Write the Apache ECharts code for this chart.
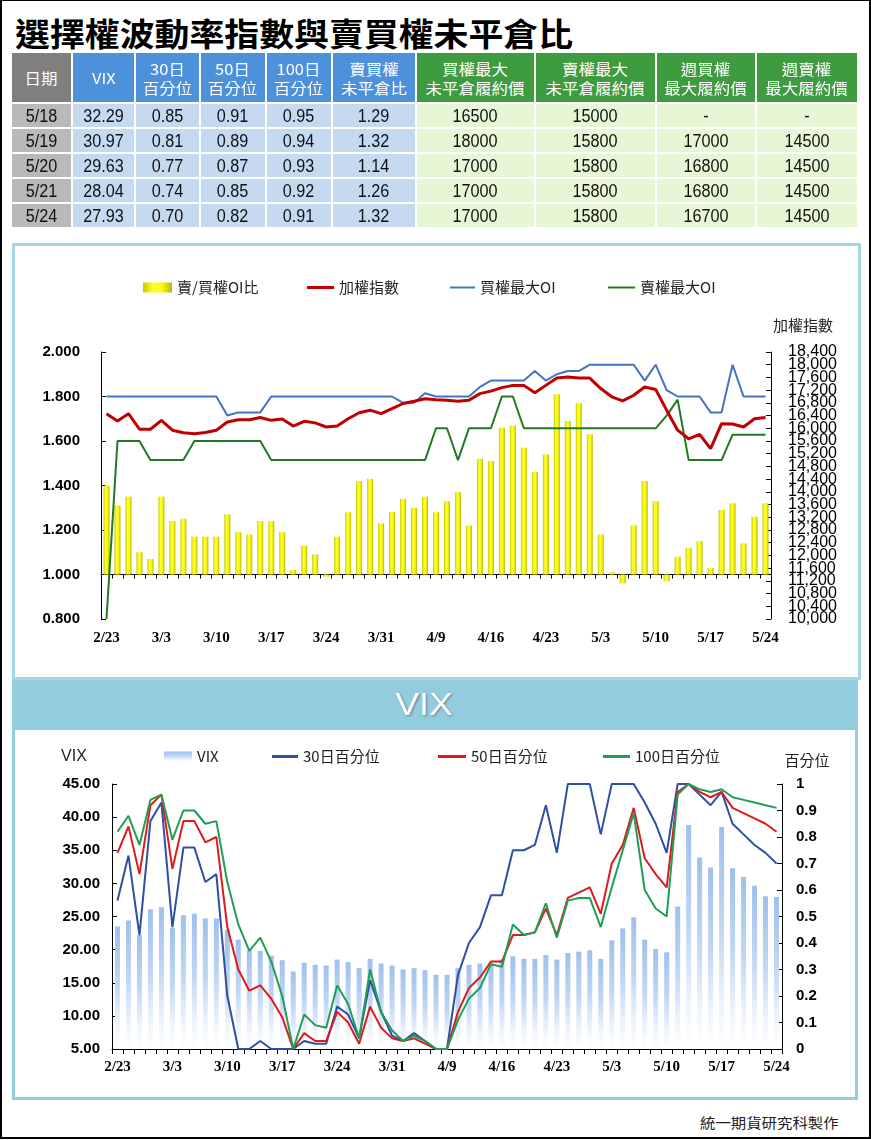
<!DOCTYPE html>
<html><head><meta charset="utf-8">
<script src="https://cdn.jsdelivr.net/npm/echarts@6/dist/echarts.min.js"></script>
<style>
html,body{margin:0;padding:0;background:#fff;}
#page{position:relative;width:871px;height:1140px;overflow:hidden;}
#frame{position:absolute;left:0;top:0;width:867px;height:1136px;border:2px solid #000;border-top-width:1px;}
#title{position:absolute;left:15px;top:11px;font-family:"Noto Sans CJK TC",sans-serif;font-weight:700;font-size:32px;line-height:42px;color:#000;white-space:nowrap;transform:scaleX(1.09);transform-origin:0 0;}
.cell{position:absolute;display:flex;align-items:center;justify-content:center;overflow:visible;}
.cell span{display:inline-block;white-space:nowrap;text-align:center;}
.hd span{font-family:"Noto Sans CJK TC","Liberation Sans",sans-serif;font-size:15px;line-height:19px;color:#fff;transform:scaleX(1.1);}
.dt span{font-family:"Liberation Sans",Arial,sans-serif;font-size:18px;line-height:20px;color:#111;transform:scaleX(0.9);}
#box1{position:absolute;left:12px;top:243px;width:843px;height:431px;border:3px solid #a6d6e5;background:#fff;}
#banner{position:absolute;left:12px;top:680px;width:846px;height:50px;background:#93cddd;}
#bannerText{position:absolute;left:0;width:846px;top:7px;text-align:center;font-family:"Liberation Sans",Arial,sans-serif;font-size:31px;line-height:36px;color:#fff;text-shadow:1px 1px 2px rgba(0,0,0,0.35);}
#bannerText span{display:inline-block;transform:scaleX(1.15);margin-left:-22px;}
#box2{position:absolute;left:12px;top:730px;width:840px;height:367px;border:3px solid #93cddd;border-top:none;background:#fff;}
#footer{position:absolute;left:700px;top:1112px;font-family:"Noto Sans CJK TC",sans-serif;font-size:14px;line-height:20px;color:#222;white-space:nowrap;transform:scaleX(1.1);transform-origin:0 0;}
#chart{position:absolute;left:0;top:0;width:871px;height:1140px;}
</style>
</head>
<body>
<div id="page">
  <div id="frame"></div>
  <div id="title">選擇權波動率指數與賣買權未平倉比</div>
  <div id="table"></div>
  <div id="box1"></div>
  <div id="banner"><div id="bannerText"><span>VIX</span></div></div>
  <div id="box2"></div>
  <div id="footer">統一期貨研究科製作</div>
  <div id="chart"></div>
</div>
<script>
// ---------- table data ----------
const tableHeaders = [['日期'],['VIX'],['30日','百分位'],['50日','百分位'],['100日','百分位'],['賣買權','未平倉比'],['買權最大','未平倉履約價'],['賣權最大','未平倉履約價'],['週買權','最大履約價'],['週賣權','最大履約價']];
const tableDates    = ['5/18','5/19','5/20','5/21','5/24'];
const tableVix      = ['32.29','30.97','29.63','28.04','27.93'];
const tableP30      = ['0.85','0.81','0.77','0.74','0.70'];
const tableP50      = ['0.91','0.89','0.87','0.85','0.82'];
const tableP100     = ['0.95','0.94','0.93','0.92','0.91'];
const tablePC       = ['1.29','1.32','1.14','1.26','1.32'];
const tableCallMax  = ['16500','18000','17000','17000','17000'];
const tablePutMax   = ['15000','15800','15800','15800','15800'];
const tableWeekCall = ['-','17000','16800','16800','16700'];
const tableWeekPut  = ['-','14500','14500','14500','14500'];

// ---------- chart data ----------
const dates = ['2/23','2/24','2/25','2/26','3/2','3/3','3/4','3/5','3/8','3/9','3/10','3/11','3/12','3/15','3/16','3/17','3/18','3/19','3/22','3/23','3/24','3/25','3/26','3/29','3/30','3/31','4/1','4/6','4/7','4/8','4/9','4/12','4/13','4/14','4/15','4/16','4/19','4/20','4/21','4/22','4/23','4/26','4/27','4/28','4/29','5/3','5/4','5/5','5/6','5/7','5/10','5/11','5/12','5/13','5/14','5/17','5/18','5/19','5/20','5/21','5/24'];
const pcRatio = [1.40,1.31,1.35,1.10,1.07,1.35,1.24,1.25,1.17,1.17,
  1.17,1.27,1.19,1.18,1.24,1.24,1.19,1.02,1.13,1.09,
  0.99,1.17,1.28,1.42,1.43,1.23,1.28,1.34,1.30,1.35,
  1.28,1.33,1.37,1.22,1.52,1.51,1.66,1.67,1.57,1.46,
  1.54,1.81,1.69,1.77,1.63,1.18,1.01,0.96,1.22,1.42,
  1.33,0.97,1.08,1.12,1.15,1.03,1.29,1.32,1.14,1.26,1.32];
const taiex = [16460,16230,16460,15970,15970,16250,15940,15860,15830,15870,
  15940,16200,16270,16270,16340,16250,16290,16070,16220,16170,
  16040,16070,16300,16490,16570,16460,16620,16780,16850,16930,
  16900,16880,16850,16880,17090,17170,17280,17350,17350,17120,
  17350,17580,17610,17580,17580,17250,16990,16860,17040,17300,
  17220,16570,15940,15670,15810,15360,16145,16133,16042,16302,16338];
const callMaxOI = [17000,17000,17000,17000,17000,17000,17000,17000,17000,17000,
  17000,16400,16500,16500,16500,17000,17000,17000,17000,17000,
  17000,17000,17000,17000,17000,17000,17000,16800,16800,17100,
  17000,17000,17000,17000,17300,17500,17500,17500,17500,17800,
  17500,17700,17800,17800,18000,18000,18000,18000,18000,17500,
  18000,17200,17000,17000,17000,16500,16500,18000,17000,17000,17000];
const putMaxOI = [10000,15600,15600,15600,15000,15000,15000,15000,15600,15600,
  15600,15600,15600,15600,15600,15000,15000,15000,15000,15000,
  15000,15000,15000,15000,15000,15000,15000,15000,15000,15000,
  16000,16000,15000,16000,16000,16000,17000,17000,16000,16000,
  16000,16000,16000,16000,16000,16000,16000,16000,16000,16000,
  16000,16400,16900,15000,15000,15000,15000,15800,15800,15800,15800];
const vix = [23.5,24.4,22.2,26.1,26.4,23.3,25.2,25.4,24.7,24.7,
  23.0,21.5,19.9,19.8,19.1,18.4,16.7,18.0,17.7,17.6,
  18.5,18.1,17.2,18.6,17.9,17.6,17.0,17.2,16.9,16.2,
  16.2,17.2,17.7,17.9,18.0,18.5,19.0,18.6,18.6,19.2,
  18.5,19.5,19.7,19.9,18.6,21.4,23.2,24.9,21.5,20.1,
  19.6,26.5,38.8,33.9,32.4,38.5,32.29,30.97,29.63,28.04,27.93];
const pct30 = [0.56,0.73,0.43,0.86,0.93,0.46,0.76,0.76,0.63,0.66,
  0.20,0,0,0.03,0,0,0,0.03,0.02,0.02,
  0.16,0.13,0.04,0.26,0.14,0.05,0.03,0.06,0.03,0,
  0,0.28,0.40,0.46,0.58,0.58,0.75,0.75,0.77,0.92,
  0.74,1,1,1,0.81,1,1,1,0.93,0.85,
  0.74,1,1,0.96,0.92,0.97,0.85,0.81,0.77,0.74,0.70];
const pct50 = [0.74,0.84,0.66,0.92,0.96,0.68,0.86,0.86,0.78,0.80,
  0.46,0.30,0.22,0.24,0.19,0.12,0,0.06,0.03,0.03,
  0.14,0.10,0.02,0.16,0.08,0.04,0.03,0.04,0.02,0,
  0,0.14,0.23,0.27,0.33,0.33,0.43,0.43,0.44,0.53,
  0.43,0.57,0.59,0.61,0.51,0.70,0.77,0.91,0.72,0.66,
  0.61,0.97,1,0.97,0.95,0.97,0.91,0.89,0.87,0.85,0.82];
const pct100 = [0.82,0.88,0.77,0.94,0.96,0.79,0.90,0.90,0.85,0.86,
  0.63,0.47,0.37,0.42,0.33,0.20,0,0.13,0.09,0.08,
  0.24,0.17,0.04,0.30,0.14,0.07,0.03,0.05,0.03,0,
  0,0.11,0.19,0.23,0.32,0.31,0.47,0.43,0.44,0.55,
  0.42,0.56,0.57,0.57,0.46,0.61,0.75,0.89,0.60,0.53,
  0.50,0.96,1,0.98,0.97,0.98,0.95,0.94,0.93,0.92,0.91];

// ---------- build table ----------
(function(){
  const colEdges = [11,72,135,200,266,332,416,535,656,756,858];
  const rowEdges = [52,103,128,153,178,203,228];
  const hdColor = c => c===0 ? '#7f7f7f' : (c<=5 ? '#4d91da' : '#3f9b40');
  const dtColor = c => c===0 ? '#b9b9b9' : (c<=5 ? '#c5daf1' : '#e7f7d6');
  const cols = [tableDates,tableVix,tableP30,tableP50,tableP100,tablePC,tableCallMax,tablePutMax,tableWeekCall,tableWeekPut];
  const host = document.getElementById('page');
  function cell(c, r, cls, bg, html){
    const d = document.createElement('div');
    d.className = 'cell ' + cls;
    d.style.left = (colEdges[c]+1)+'px';
    d.style.width = (colEdges[c+1]-colEdges[c]-2)+'px';
    d.style.top = (rowEdges[r]+1)+'px';
    d.style.height = (rowEdges[r+1]-rowEdges[r]-2)+'px';
    d.style.background = bg;
    d.innerHTML = '<span>'+html+'</span>';
    host.appendChild(d);
  }
  for (let c=0;c<10;c++){
    cell(c,0,'hd',hdColor(c),tableHeaders[c].join('<br>'));
    for (let r=0;r<5;r++) cell(c,r+1,'dt',dtColor(c),cols[c][r]);
  }
})();

// ---------- chart ----------
const chart = echarts.init(document.getElementById('chart'), null, {renderer:'canvas'});
const CJK = '"Noto Sans CJK TC", sans-serif';
const SANS = '"Liberation Sans", Arial, sans-serif';
const SERIF = '"Liberation Serif", "Times New Roman", serif';
const legTxt = {fontFamily: CJK, fontSize: 15, color: '#222'};
const yellow = new echarts.graphic.LinearGradient(0,0,1,0,[
  {offset:0,color:'#c9c900'},{offset:0.35,color:'#ffff30'},{offset:0.65,color:'#fafa10'},{offset:1,color:'#b8b800'}]);
const lightBlue = new echarts.graphic.LinearGradient(0,0,0,1,[
  {offset:0,color:'#9fc0ec'},{offset:0.45,color:'#c0d6f4'},{offset:0.8,color:'#eef4fc'},{offset:1,color:'#ffffff'}]);
function leg(name, left, top, w, h){
  return {data:[name], left:left, top:top, padding:0, itemWidth:w, itemHeight:h, icon:'rect', textStyle:legTxt, selectedMode:false};
}
const xLabel = {fontFamily: SERIF, fontWeight:'bold', fontSize:15, color:'#000'};
// right index axis: labels split over two overlaid axes so none get auto-hidden
const idxStep = v => Math.round((v - 10000) / 400);
const fmtIdx = v => Math.round(v).toLocaleString('en-US');
const idxLabelStyle = {fontFamily:SANS, fontSize:16, color:'#000', margin:17, showMinLabel:true, showMaxLabel:true, hideOverlap:false};

const option = {
  animation:false,
  legend: [
    leg('賣/買權OI比', 143, 280, 29, 10),
    leg('加權指數', 307, 280, 27, 3),
    leg('買權最大OI', 450, 280, 25, 2),
    leg('賣權最大OI', 608, 280, 27, 2),
    leg('VIX', 164, 749, 28, 10),
    leg('30日百分位', 272, 749, 26, 3),
    leg('50日百分位', 438, 749, 28, 3),
    leg('100日百分位', 603, 749, 27, 3)
  ],
  graphic: [
    {type:'text', x:803, y:325, style:{text:'加權指數', font:'15px '+CJK, fill:'#222', textAlign:'center', textVerticalAlign:'middle'}},
    {type:'text', x:74, y:757, style:{text:'VIX', font:'16px '+SANS, fill:'#222', textAlign:'center', textVerticalAlign:'middle'}},
    {type:'text', x:807, y:760, style:{text:'百分位', font:'15px '+CJK, fill:'#222', textAlign:'center', textVerticalAlign:'middle'}}
  ],
  grid: [
    {left:101, top:352, width:670, height:267},
    {left:112, top:784, width:670, height:265}
  ],
  xAxis: [
    {type:'category', gridIndex:0, data:dates, boundaryGap:true,
     axisLine:{show:true, onZero:true, lineStyle:{color:'#000', width:1}},
     axisTick:{show:true, interval:0, length:4, lineStyle:{color:'#000'}},
     axisLabel:{show:false}, splitLine:{show:false}},
    {type:'category', gridIndex:0, data:dates, boundaryGap:true, position:'bottom',
     axisLine:{show:false, onZero:false}, axisTick:{show:false},
     axisLabel:Object.assign({interval:4, margin:12}, xLabel), splitLine:{show:false}},
    {type:'category', gridIndex:1, data:dates, boundaryGap:true,
     axisLine:{show:true, onZero:false, lineStyle:{color:'#000', width:1}},
     axisTick:{show:true, interval:0, length:5, lineStyle:{color:'#000'}},
     axisLabel:Object.assign({interval:4, margin:11}, xLabel), splitLine:{show:false}}
  ],
  yAxis: [
    {type:'value', gridIndex:0, position:'left', min:-0.2, max:1.0, interval:0.2,
     axisLine:{show:true, lineStyle:{color:'#000'}}, axisTick:{show:true, inside:true, length:5, lineStyle:{color:'#000'}},
     splitLine:{show:false},
     axisLabel:{formatter: v => (v+1).toFixed(3), fontFamily:SANS, fontWeight:'bold', fontSize:15, color:'#000', margin:21, showMinLabel:true, showMaxLabel:true}},
    {type:'value', gridIndex:0, position:'right', min:10000, max:18400, interval:400,
     axisLine:{show:true, lineStyle:{color:'#000'}}, axisTick:{show:true, inside:true, length:5, lineStyle:{color:'#000'}},
     splitLine:{show:false},
     axisLabel:Object.assign({formatter: v => idxStep(v) % 2 === 0 ? fmtIdx(v) : ''}, idxLabelStyle)},
    {type:'value', gridIndex:1, position:'left', min:5, max:45, interval:5,
     axisLine:{show:true, lineStyle:{color:'#000'}}, axisTick:{show:true, inside:true, length:5, lineStyle:{color:'#000'}},
     splitLine:{show:false},
     axisLabel:{formatter: v => v.toFixed(2), fontFamily:SANS, fontWeight:'bold', fontSize:15, color:'#000', margin:12, showMinLabel:true, showMaxLabel:true}},
    {type:'value', gridIndex:1, position:'right', min:0, max:1, interval:0.1,
     axisLine:{show:true, lineStyle:{color:'#000'}}, axisTick:{show:true, inside:true, length:5, lineStyle:{color:'#000'}},
     splitLine:{show:false},
     axisLabel:{formatter: v => String(+v.toFixed(1)), fontFamily:SANS, fontWeight:'bold', fontSize:15, color:'#000', margin:14, showMinLabel:true, showMaxLabel:true}},
    {type:'value', gridIndex:0, position:'right', min:10000, max:18400, interval:400,
     axisLine:{show:false}, axisTick:{show:false}, splitLine:{show:false},
     axisLabel:Object.assign({formatter: v => idxStep(v) % 2 === 1 ? fmtIdx(v) : ''}, idxLabelStyle)}
  ],
  series: [
    {name:'賣/買權OI比', type:'bar', xAxisIndex:0, yAxisIndex:0, barWidth:6,
     data: pcRatio.map(v => +(v-1).toFixed(4)), itemStyle:{color:yellow}},
    {name:'買權最大OI', type:'line', xAxisIndex:0, yAxisIndex:1, data:callMaxOI, symbol:'none',
     lineStyle:{color:'#4472c4', width:2}, itemStyle:{color:'#4472c4'}},
    {name:'賣權最大OI', type:'line', xAxisIndex:0, yAxisIndex:1, data:putMaxOI, symbol:'none',
     lineStyle:{color:'#217a21', width:2}, itemStyle:{color:'#217a21'}},
    {name:'加權指數', type:'line', xAxisIndex:0, yAxisIndex:1, data:taiex, symbol:'none',
     lineStyle:{color:'#c00000', width:3}, itemStyle:{color:'#c00000'}},
    {name:'VIX', type:'bar', xAxisIndex:2, yAxisIndex:2, barWidth:5, data:vix, itemStyle:{color:lightBlue}},
    {name:'30日百分位', type:'line', xAxisIndex:2, yAxisIndex:3, data:pct30, symbol:'none',
     lineStyle:{color:'#2f4fa3', width:2}, itemStyle:{color:'#2f4fa3'}},
    {name:'50日百分位', type:'line', xAxisIndex:2, yAxisIndex:3, data:pct50, symbol:'none',
     lineStyle:{color:'#e0191c', width:2}, itemStyle:{color:'#e0191c'}},
    {name:'100日百分位', type:'line', xAxisIndex:2, yAxisIndex:3, data:pct100, symbol:'none',
     lineStyle:{color:'#1f9e55', width:2}, itemStyle:{color:'#1f9e55'}}
  ]
};
chart.setOption(option);
</script>
</body></html>
